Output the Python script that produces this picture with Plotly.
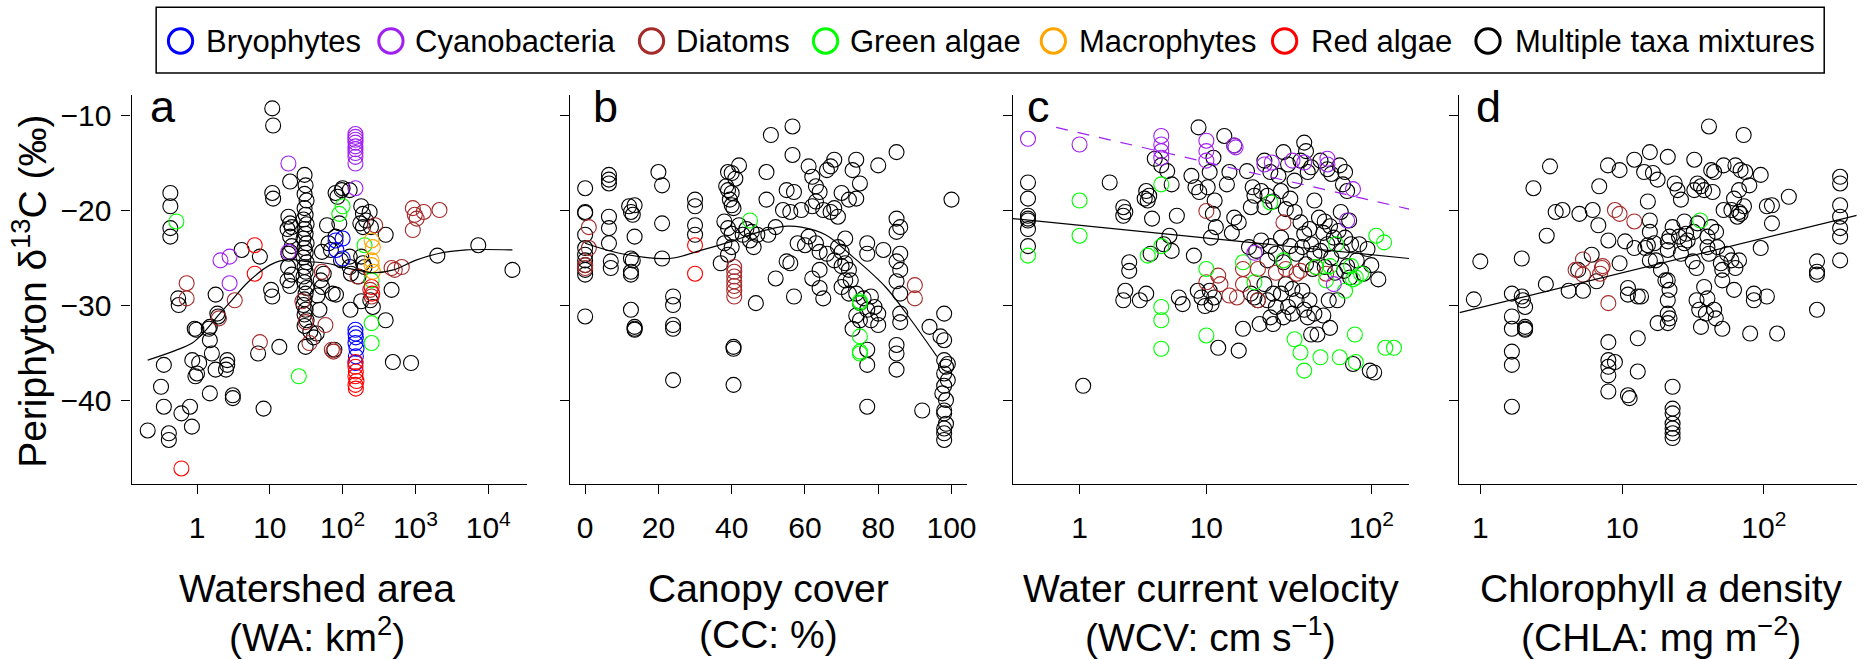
import math
import plotly.graph_objects as go

W, H = 1874, 660
FONT = "Liberation Sans, Arial, Helvetica, sans-serif"

TAXA = ["Bryophytes", "Cyanobacteria", "Diatoms", "Green algae",
        "Macrophytes", "Red algae", "Multiple taxa mixtures"]
COLORS = {"Bryophytes": "#0000FF", "Cyanobacteria": "#A020F0", "Diatoms": "#A52A2A",
          "Green algae": "#00FF00", "Macrophytes": "#FFA500", "Red algae": "#FF0000",
          "Multiple taxa mixtures": "#000000"}

Y_TICKS = [-10, -20, -30, -40]
Y_TICK_TEXT = ["\u221210", "\u221220", "\u221230", "\u221240"]

# ---------------- panel a: watershed area (km2) vs d13C ----------------
A_MIX = [(0.21,-43.2),(0.32,-38.6),(0.35,-36.3),(0.35,-40.7),(0.41,-43.5),(0.41,-44.2),
 (0.43,-18.2),(0.43,-19.6),(0.43,-21.9),(0.43,-22.8),(0.55,-29.3),(0.56,-30.0),(0.61,-41.4),
 (0.80,-40.7),(0.85,-42.8),(0.93,-32.5),(0.98,-32.6),(0.86,-35.8),(1.0,-37.2),(0.95,-37.5),
 (1.07,-36.1),(1.5,-32.3),(1.45,-32.5),(1.5,-33.7),(1.6,-35.1),(1.5,-39.3),(1.8,-28.9),
 (1.9,-30.9),(1.95,-31.2),(1.8,-36.8),(2.5,-36.8),(2.6,-35.8),(2.6,-36.3),(3.1,-39.5),
 (3.1,-39.8),(4.1,-24.2),(7.3,-24.9),(6.9,-35.1),(8.2,-40.9),(10.8,-9.3),(11.1,-11.1),
 (10.8,-18.2),(11.1,-18.8),(10.4,-28.4),(10.8,-29.1),(13.5,-34.4),(19,-17.0),(17.5,-27.4),
 (17.8,-26.0),(18,-24.6),(18,-20.7),(19,-21.4),(20,-21.8),(19,-22.8),(20,-23.8),(19,-24.4),
 (17.5,-22.0),(20,-26.8),(19,-28.0),
 (30,-16.3),(31,-17.4),(30,-18.3),(32,-19.0),(30,-19.8),(31,-20.5),(29,-21.0),(32,-21.5),
 (30,-22.0),(31,-22.5),(29,-23.0),(32,-23.5),(30,-24.0),(31,-24.5),(29,-25.0),(32,-25.5),
 (30,-26.0),(31,-26.5),(29,-27.0),(30,-27.6),(32,-28.2),(31,-28.8),(30,-29.4),(29,-30.0),
 (31,-30.5),(30,-31.0),(32,-31.6),(30,-32.2),(31,-34.4),
 (40,-33.4),(44,-33.0),(36,-32.8),(52,-24.4),(50,-27.4),(52,-28.1),(55,-26.7),(45,-29.0),
 (48,-30.5),(61,-21.6),(64,-23.5),(69,-24.2),(73,-28.8),(81,-28.9),(77,-34.7),(80,-18.2),
 (85,-18.6),(97,-17.9),(100,-17.7),(125,-17.9),(90,-21.4),(80,-22.8),(95,-25.3),(125,-24.9),
 (125,-26.0),(130,-26.7),(128,-30.5),(180,-19.6),(190,-20.4),(210,-21.1),(235,-20.2),
 (175,-21.4),(190,-21.8),(245,-21.8),(180,-24.9),(190,-25.6),(200,-26.0),(165,-27.0),
 (180,-29.6),(240,-29.5),(260,-30.2),(390,-22.6),(470,-28.4),(390,-31.6),(490,-36.0),
 (870,-36.1),(2000,-24.8),(7300,-23.7),(21500,-26.3)]
A_DIA = [(0.72,-27.7),(0.72,-29.3),(2.0,-31.4),(3.3,-29.5),(7.3,-33.9),(28,-29.6),(31,-31.8),
 (35,-34.0),(52,-26.5),(58,-32.1),(71,-34.7),(75,-34.9),(160,-27.0),(240,-28.4),(250,-29.1),
 (280,-21.6),(470,-26.1),(520,-26.3),(650,-26.0),(920,-19.8),(980,-20.5),(1040,-20.9),
 (1300,-20.2),(920,-22.1),(2140,-20.0)]
A_CYA = [(2.1,-25.3),(2.8,-24.9),(2.8,-27.7),(18,-15.1),(18,-24.4),(150,-12.0),(150,-12.3),
 (150,-12.6),(150,-12.9),(150,-13.3),(150,-13.6),(150,-14.0),(150,-14.4),(150,-15.1),(150,-17.7)]
A_GRE = [(0.52,-21.2),(25,-37.5),(90,-20.4),(100,-19.6),(200,-23.7),(250,-31.9),(250,-34.0),(250,-27.4)]
A_BRY = [(80,-23.2),(100,-23.0),(82,-24.2),(100,-25.1),(150,-32.6),(150,-33.0),(152,-33.4),
 (150,-34.0),(155,-34.6),(152,-35.4),(150,-36.1)]
A_RED = [(0.61,-47.2),(6.2,-23.7),(6.2,-26.7),(150,-36.0),(150,-36.5),(152,-37.0),(150,-37.5),
 (155,-38.0),(150,-38.4),(152,-38.8),(250,-28.1),(255,-28.8)]
A_MAC = [(250,-23.2),(260,-23.9),(250,-25.3),(250,-25.8),(260,-26.5)]
A_LOESS = [(0.21,-35.8),(0.5,-34.8),(0.86,-34.0),(1.2,-33.0),(2.0,-31.0),(3.0,-29.5),(5,-27.6),
 (10,-25.8),(18,-25.2),(30,-25.4),(60,-25.6),(100,-26.0),(180,-26.4),(270,-26.6),(500,-26.3),
 (1000,-25.3),(2000,-24.6),(5000,-24.2),(21500,-24.2)]

# ---------------- panel b: canopy cover (%) ----------------
B_MIX = [(0,-17.7),(0,-20.2),(0,-20.3),(0,-22.6),(0,-24.0),(0,-24.7),(0,-25.3),(0,-25.8),
 (0,-26.3),(0,-26.8),(0,-31.2),(6.5,-16.3),(6.5,-16.8),(6.5,-17.2),(6.5,-20.7),(6.5,-21.9),
 (6.5,-23.5),(7,-25.4),(7,-26.1),(12,-19.6),(12.5,-20.2),(13,-20.5),(13.5,-19.5),(13.5,-22.8),
 (12.5,-25.1),(13,-25.3),(12.5,-26.5),(12.5,-26.8),(12.5,-30.5),(13.5,-32.3),(13.5,-32.5),
 (13.5,-32.6),(20,-16.0),(21,-17.4),(21,-21.4),(21,-25.1),(24,-29.1),(24,-30.0),(24,-32.1),
 (24,-32.5),(24,-37.9),(30,-18.9),(30,-19.6),(30,-21.6),(30,-22.6),(39,-16.0),(40,-16.1),
 (41,-16.7),(38.5,-17.5),(39,-17.9),(40,-18.2),(39.5,-18.9),(40,-19.5),(40.5,-19.8),(38,-21.2),
 (39,-21.9),(40,-22.5),(38,-23.5),(40,-23.9),(39,-24.7),(37,-25.6),(40.5,-34.4),(40.5,-34.6),
 (40.5,-38.4),(42,-15.3),(42,-21.6),(43,-22.6),(44,-22.0),(45,-23.2),(46,-23.9),(47,-22.6),
 (45.5,-22.3),(46.6,-29.8),(49.5,-16.0),(49.5,-18.9),(50,-22.6),(50.7,-12.1),(52,-21.8),
 (52,-27.2),(54,-20.0),(56,-20.2),(55,-17.9),(57,-18.1),(55,-25.4),(56,-25.6),(57,-29.1),
 (56.6,-11.2),(56.6,-14.2),(58,-23.5),(60,-23.7),(59,-20.0),(61,-15.4),(62,-16.5),(63,-17.5),
 (64,-18.1),(63,-19.1),(62,-19.6),(65,-20.0),(61,-22.8),(63,-23.5),(64,-24.4),(66,-24.6),
 (64,-26.3),(62,-27.2),(64,-28.2),(65,-29.3),(68,-14.7),(67,-15.4),(66,-15.8),(70,-18.2),
 (72,-18.9),(68,-19.8),(67,-20.2),(69,-20.7),(71,-23.0),(69,-23.9),(70,-24.4),(68,-25.3),
 (71,-25.6),(70,-25.9),(72,-26.3),(71,-27.4),(70,-28.1),(72,-28.8),(74,-14.7),(73,-15.8),
 (75,-17.2),(74,-18.8),(72.5,-27.4),(74,-28.8),(76,-29.3),(75,-29.8),(77,-30.5),(74,-31.1),
 (75,-31.6),(73,-32.5),(77,-23.5),(77,-24.6),(78,-29.1),(79,-30.2),(80,-30.9),(78,-31.6),
 (80,-32.1),(77,-34.7),(77,-36.3),(77,-40.7),(80,-15.3),(81.4,-24.2),(85,-13.9),(85,-20.9),
 (86,-21.8),(85,-22.3),(86,-24.6),(85,-25.4),(86,-26.3),(85,-27.5),(86,-28.8),(86,-30.9),
 (86,-31.8),(85,-34.2),(85,-35.1),(85,-36.8),(92,-41.1),(94,-32.3),(98,-30.9),(97,-33.3),
 (98,-33.7),(98,-35.8),(98.5,-36.5),(98,-37.2),(99,-37.9),(97.5,-39.3),(98.5,-40.0),
 (98,-41.1),(98,-41.4),(98.5,-42.5),(98,-43.0),(98,-43.5),(98,-44.2),(99,-36.2),(98,-38.5),
 (100,-18.9)]
B_DIA = [(1,-21.8),(1,-24.0),(0,-25.8),(0,-26.1),(40.7,-26.0),(40.7,-26.5),(40.7,-27.0),
 (40.7,-27.5),(40.7,-28.0),(40.7,-28.5),(40.7,-29.1),(90,-27.9),(90,-29.3)]
B_RED = [(30,-23.7),(30,-26.7)]
B_GRE = [(45,-21.1),(75,-29.6),(75,-29.8),(75,-33.3),(75,-34.9),(75,-35.1)]
B_LOESS = [(0,-23.5),(10,-24.6),(23,-25.1),(32,-24.2),(40,-23.3),(47.5,-22.3),(55,-21.7),
 (59,-21.8),(65.6,-22.6),(73,-24.9),(82,-28.1),(89,-31.6),(96,-35.4)]

# ---------------- panel c: water current velocity (cm/s), axis log10(WCV+1) ----------------
C_MIX = [(0,-17.1),(0,-18.8),(0,-20.6),(0,-20.9),(0,-21.1),(0,-22.0),(0,-23.8),(2.0,-17.1),
 (1.1,-38.5),(2.6,-19.7),(2.7,-20.2),(2.6,-20.6),(2.9,-25.5),(2.9,-26.4),(2.7,-28.5),(2.6,-29.5),
 (4.5,-14.6),(3.9,-18.0),(4.1,-18.5),(3.8,-18.8),(4.0,-19.0),(4.3,-20.9),(4.2,-24.6),(3.9,-28.8),
 (3.5,-29.5),(5.0,-15.3),(5.5,-15.9),(5.9,-17.3),(5.7,-22.7),(5.2,-23.6),(5.9,-24.3),(6.4,-20.6),
 (6.6,-29.2),(7.0,-29.9),(8.9,-11.3),(8.0,-16.4),(8.5,-17.6),(9.0,-18.1),(8.3,-24.8),(8.8,-28.5),
 (9.3,-29.2),(9.8,-30.1),(11.1,-14.5),(10.5,-16.0),(10.2,-17.6),(11.3,-19.0),(11.0,-20.4),
 (11.5,-21.8),(10.7,-22.9),(10.5,-28.5),(11.2,-29.2),(10.8,-29.9),(11.9,-34.5),(13.0,-12.2),
 (15.0,-13.2),(14.0,-16.0),(13.5,-17.3),(15.0,-20.8),(16.0,-21.3),(14.5,-22.4),(17.0,-32.5),
 (16.0,-34.8),(18.0,-15.9),(19.5,-17.6),(20.0,-18.5),(19.0,-19.7),(18.5,-23.9),(20.5,-24.3),
 (19.0,-28.8),(20.0,-29.2),(21.0,-29.5),(21.5,-32.0),(23,-14.8),(25,-16.0),(22,-18.0),(24,-18.5),
 (26,-19.1),(23,-19.7),(22,-23.2),(25,-23.8),(27,-24.6),(24,-25.3),(23,-27.8),(26,-28.8),
 (24,-29.5),(27,-30.2),(25,-31.3),(26,-32.0),(30,-13.9),(32,-15.2),(28,-16.4),(35,-16.9),
 (29,-18.0),(33,-18.8),(31,-19.9),(35,-20.2),(29,-22.9),(33,-23.8),(36,-24.6),(30,-25.5),
 (31,-27.8),(34,-28.3),(29,-28.8),(36,-29.5),(32,-30.2),(34,-30.9),(30,-31.3),(40,-12.9),
 (41,-13.8),(38,-14.8),(44,-15.5),(42,-16.0),(46,-19.0),(38,-21.3),(43,-22.0),(40,-22.5),
 (44,-23.6),(39,-23.9),(46,-24.6),(41,-25.7),(45,-26.2),(39,-28.5),(43,-29.5),(40,-30.5),
 (46,-30.9),(42,-31.3),(44,-33.1),(50,-14.8),(55,-15.7),(58,-16.2),(49,-20.8),(53,-21.2),
 (57,-21.7),(52,-22.4),(60,-22.9),(55,-23.6),(50,-24.3),(58,-25.0),(53,-26.0),(61,-26.6),
 (56,-29.5),(52,-31.1),(57,-32.4),(48,-33.1),(65,-15.3),(70,-16.0),(68,-17.3),(72,-18.0),
 (66,-20.2),(74,-21.1),(64,-22.2),(70,-22.9),(76,-23.6),(67,-24.3),(72,-25.9),(69,-26.4),
 (75,-27.1),(63,-29.5),(78,-36.2),(85,-23.6),(95,-24.1),(82,-25.3),(100,-25.8),(90,-26.7),
 (110,-27.3),(98,-36.9),(104,-37.1)]
C_CYA = [(0,-12.5),(1,-13.1),(5,-12.2),(5,-13.1),(5,-13.8),(5,-14.5),(10,-12.7),(10,-13.8),
 (10,-14.8),(15,-13.2),(15.3,-13.4),(23,-15.2),(25.5,-15.0),(34,-14.8),(40,-15.0),(55,-14.6),
 (55,-15.2),(78,-17.8),(72,-21.1),(20,-24.5),(60,-27.8)]
C_GRE = [(0,-24.8),(1,-19.0),(1,-22.7),(5,-17.3),(4,-24.8),(5,-23.8),(5,-30.2),(5,-31.6),
 (5,-34.6),(10,-26.2),(10,-33.2),(17,-25.5),(20,-27.6),(25,-19.2),(30,-25.3),(35,-33.6),
 (38,-35.0),(40,-36.9),(50,-35.5),(57,-25.9),(62,-23.6),(65,-35.5),(54,-27.4),(70,-28.5),
 (76,-25.9),(81,-27.1),(80,-33.1),(81,-36.0),(87,-26.7),(107,-22.7),(119,-23.4),(121,-34.5),
 (136,-34.5),(47,-26.0),(78,-27.3)]
C_DIA = [(10,-20.1),(10,-27.6),(11.9,-26.9),(12.3,-27.8),(14,-29.0),(15.6,-29.2),(17,-26.2),
 (17,-27.8),(21,-26.2),(21,-29.5),(27,-26.6),(30,-21.3),(31,-26.2),(36,-26.7),(38,-26.4),
 (47,-26.0),(54,-26.7)]
# regression lines on log10(WCV + 1): intercept, slope
C_FIT_ALL = (-21.06, -1.816)
C_FIT_CYA = (-10.62, -4.17)
C_FIT_CYA_START = 0.46

# ---------------- panel d: chlorophyll a density (mg/m2) ----------------
D_MIX = [(0.9,-29.4),(1.0,-25.4),(1.67,-28.8),(1.67,-31.2),(1.67,-32.5),(1.67,-34.9),(1.67,-36.3),
 (1.67,-40.7),(1.96,-25.1),(1.96,-29.1),(2.0,-29.5),(2.07,-30.2),(2.07,-32.3),(2.07,-32.5),
 (2.07,-32.6),(2.37,-17.7),(2.9,-27.8),(2.94,-22.7),(3.1,-15.4),(3.4,-20.2),(3.8,-20.0),
 (4.2,-28.5),(4.9,-26.3),(5.0,-20.4),(5.3,-28.5),(6.1,-24.7),(6.2,-20.0),(6.6,-27.5),(6.8,-21.6),
 (6.9,-17.5),(7.95,-15.3),(8.0,-23.2),(8.0,-33.9),(8.0,-35.8),(8.0,-36.5),(8.0,-37.4),(8.0,-39.1),
 (8.9,-36.0),(9.6,-25.6),(9.6,-15.8),(10.5,-23.3),(11.0,-28.2),(11.0,-28.9),(11.0,-39.5),
 (11.3,-39.8),(12.2,-14.7),(12.2,-24.0),(12.9,-29.1),(13.6,-29.1),(12.9,-33.5),(12.9,-37.0),
 (14.3,-16.0),(14.6,-24.0),(15.2,-23.7),(15.2,-19.1),(15.7,-21.1),(15.7,-22.3),(15.7,-25.3),
 (15.7,-13.9),(16.5,-16.1),(17.8,-16.8),(16.9,-23.5),(17.3,-25.3),(17.8,-31.9),(18.8,-26.3),
 (20.2,-27.4),(21,-14.4),(21,-23.3),(21.6,-22.8),(21,-24.2),(21,-27.4),(21.6,-28.4),(21,-29.5),
 (21,-30.9),(21.6,-31.4),(21,-31.9),(22.7,-21.8),(23.5,-17.2),(22.7,-38.6),(22.7,-40.9),
 (22.7,-41.4),(22.7,-42.5),(22.7,-43.0),(22.7,-43.5),(22.7,-44.0),(24.6,-17.9),(26,-18.9),
 (25.2,-22.8),(26,-24.6),(27.5,-23.5),(28.3,-22.5),(29,-23.2),(27.5,-21.2),(32,-22.3),(34,-21.4),
 (32.3,-14.7),(32.3,-17.9),(31.5,-25.4),(33.5,-26.1),(33.5,-29.5),(35,-30.5),(36,-32.3),
 (34,-17.2),(36,-17.5),(37.9,-17.9),(37.9,-28.1),(39,-30.9),(40,-29.3),(40,-22.8),(40,-23.9),
 (41,-24.6),(42.5,-21.8),(41,-11.2),(42.5,-15.8),(44.6,-16.0),(43.5,-18.1),(44.6,-30.5),
 (45.8,-31.4),(50.9,-32.5),(46,-22.3),(47,-23.9),(49.7,-25.6),(50.9,-26.3),(50.9,-27.4),
 (52,-15.3),(63,-15.3),(52,-20.0),(59,-20.0),(61.6,-18.8),(55,-24.6),(59,-25.3),(63,-26.1),
 (61.6,-28.4),(66.8,-25.3),(65,-20.7),(66.8,-20.2),(68.5,-20.4),(72.4,-19.6),(66.8,-17.9),
 (72,-12.1),(68.5,-15.8),(74,-16.0),(79,-17.4),(95,-16.3),(80,-33.0),(85,-28.8),(85,-29.5),
 (105,-29.1),(95,-24.0),(105,-19.6),(114,-19.5),(114,-21.4),(124,-33.0),(150,-18.6),
 (237,-25.4),(237,-26.5),(237,-26.8),(237,-30.5),(345,-16.5),(345,-17.2),(345,-19.5),
 (345,-20.7),(345,-21.9),(345,-22.8),(345,-25.3)]
D_DIA = [(4.7,-26.3),(5.3,-25.2),(5.3,-26.8),(7.2,-26.1),(7.0,-26.7),(7.3,-25.9),(8.9,-20.0),
 (9.6,-20.4),(12.2,-21.2),(8.0,-29.8)]
D_GRE = [(35.6,-21.1)]
D_FIT = (-30.26, 3.656)   # intercept, slope on log10(CHLA)

# ---------------- axis ranges / ticks ----------------
Y_RANGE = [-48.87, -7.89]
A_RANGE_LOG = [-0.899, 4.535]
A_TICKS = [1, 10, 100, 1000, 10000]
A_TICK_TEXT = ["1", "10", "10<sup>2</sup>", "10<sup>3</sup>", "10<sup>4</sup>"]
B_RANGE = [-4.07, 104.1]
B_TICKS = [0, 20, 40, 60, 80, 100]
C_RANGE_T = [-0.0877, 2.2253]
C_TICKS = [1, 10, 100]
C_TICK_TEXT = ["1", "10", "10<sup>2</sup>"]
D_RANGE_LOG = [-0.147, 2.655]
D_TICKS = [1, 10, 100]
D_TICK_TEXT = ["1", "10", "10<sup>2</sup>"]

# ---------------- layout geometry (pixels) ----------------
X_DOMAINS_PX = [(132.3, 530.0), (573.3, 971.7), (1018.4, 1416.7), (1467.3, 1866.7)]
Y_DOMAIN_PX = (95.0, 484.3)


def px_x(p):
    return p / W


def px_y(p):
    return 1 - p / H


def tc(v):
    return math.log10(v + 1)


fig = go.Figure()


def add_points(pts, taxon, ax, tf=None):
    xs = [p[0] for p in pts]
    if tf:
        xs = [tf(v) for v in xs]
    fig.add_trace(go.Scatter(
        x=xs, y=[p[1] for p in pts], mode="markers", name=taxon, showlegend=False,
        xaxis="x" + ax, yaxis="y" + ax,
        marker=dict(symbol="circle-open", size=15, color=COLORS[taxon],
                    line=dict(width=1.1, color=COLORS[taxon]))))


def add_line(xs, ys, ax, color="#000000", dash="solid", shape="linear"):
    fig.add_trace(go.Scatter(
        x=xs, y=ys, mode="lines", showlegend=False, hoverinfo="skip",
        xaxis="x" + ax, yaxis="y" + ax,
        line=dict(color=color, width=1.2, dash=dash, shape=shape, smoothing=1.0)))


# panel a
add_points(A_MIX, "Multiple taxa mixtures", "")
add_points(A_DIA, "Diatoms", "")
add_points(A_CYA, "Cyanobacteria", "")
add_points(A_GRE, "Green algae", "")
add_points(A_BRY, "Bryophytes", "")
add_points(A_RED, "Red algae", "")
add_points(A_MAC, "Macrophytes", "")
add_line([p[0] for p in A_LOESS], [p[1] for p in A_LOESS], "", shape="spline")

# panel b
add_points(B_MIX, "Multiple taxa mixtures", "2")
add_points(B_DIA, "Diatoms", "2")
add_points(B_RED, "Red algae", "2")
add_points(B_GRE, "Green algae", "2")
add_line([p[0] for p in B_LOESS], [p[1] for p in B_LOESS], "2", shape="spline")

# panel c
add_points(C_MIX, "Multiple taxa mixtures", "3", tc)
add_points(C_DIA, "Diatoms", "3", tc)
add_points(C_GRE, "Green algae", "3", tc)
add_points(C_CYA, "Cyanobacteria", "3", tc)
ux = [C_RANGE_T[0], C_RANGE_T[1]]
add_line(ux, [C_FIT_ALL[0] + C_FIT_ALL[1] * u for u in ux], "3")
ux2 = [tc(C_FIT_CYA_START), C_RANGE_T[1]]
add_line(ux2, [C_FIT_CYA[0] + C_FIT_CYA[1] * u for u in ux2], "3",
         color=COLORS["Cyanobacteria"], dash="12px,10px")

# panel d
add_points(D_MIX, "Multiple taxa mixtures", "4")
add_points(D_DIA, "Diatoms", "4")
add_points(D_GRE, "Green algae", "4")
lx = [D_RANGE_LOG[0], D_RANGE_LOG[1]]
add_line([10 ** v for v in lx], [D_FIT[0] + D_FIT[1] * v for v in lx], "4")

tickfont = dict(family=FONT, size=30, color="#000000")
ydom = [px_y(Y_DOMAIN_PX[1]), px_y(Y_DOMAIN_PX[0])]

common_x = dict(showline=True, linecolor="#000000", linewidth=1.3, ticks="outside",
                ticklen=9, tickwidth=1.2, tickcolor="#000000", showgrid=False,
                zeroline=False, tickfont=tickfont, ticklabelstandoff=8, fixedrange=True)
xaxes_cfg = [
    dict(type="log", range=A_RANGE_LOG, tickvals=A_TICKS, ticktext=A_TICK_TEXT),
    dict(type="linear", range=B_RANGE, tickvals=B_TICKS, ticktext=[str(v) for v in B_TICKS]),
    dict(type="linear", range=C_RANGE_T, tickvals=[tc(v) for v in C_TICKS], ticktext=C_TICK_TEXT),
    dict(type="log", range=D_RANGE_LOG, tickvals=D_TICKS, ticktext=D_TICK_TEXT),
]
layout = dict(width=W, height=H, margin=dict(l=0, r=0, t=0, b=0),
              paper_bgcolor="#ffffff", plot_bgcolor="#ffffff", showlegend=False,
              font=dict(family=FONT, color="#000000"))
for i, cfg in enumerate(xaxes_cfg):
    key = "xaxis" if i == 0 else "xaxis%d" % (i + 1)
    ykey = "yaxis" if i == 0 else "yaxis%d" % (i + 1)
    sfx = "" if i == 0 else str(i + 1)
    d0, d1 = X_DOMAINS_PX[i]
    layout[key] = dict(common_x, domain=[px_x(d0), px_x(d1)], anchor="y" + sfx, **cfg)
    layout[ykey] = dict(showline=True, linecolor="#000000", linewidth=1.3, ticks="outside",
                        ticklen=9, tickwidth=1.2, tickcolor="#000000", showgrid=False,
                        zeroline=False, range=Y_RANGE, domain=ydom, anchor="x" + sfx,
                        tickvals=Y_TICKS, ticktext=Y_TICK_TEXT, tickfont=tickfont,
                        showticklabels=(i == 0), ticklabelstandoff=4, fixedrange=True)

annotations = []
shapes = []


def ann(text, x, y, size, xanchor="center", yanchor="middle", angle=0):
    annotations.append(dict(text=text, x=px_x(x), y=px_y(y), xref="paper", yref="paper",
                            xanchor=xanchor, yanchor=yanchor, showarrow=False, textangle=angle,
                            font=dict(family=FONT, size=size, color="#000000")))


# panel letters
for letter, lx0 in zip("abcd", [149, 594, 1030, 1482]):
    ann(letter, lx0, 106, 45, xanchor="left")

# axis titles
X_TITLES = [("Watershed area", "(WA: km<sup>2</sup>)", 319),
            ("Canopy cover", "(CC: %)", 773),
            ("Water current velocity", "(WCV: cm s<sup>\u22121</sup>)", 1217),
            ("Chlorophyll <i>a</i> density", "(CHLA: mg m<sup>\u22122</sup>)", 1670)]
for l1, l2, cx in X_TITLES:
    ann(l1, cx, 588, 39)
    ann(l2, cx, 634, 39)
ann("Periphyton \u03b4<sup>13</sup>C (\u2030)", 29.5, 291.5, 39, angle=-90)

# legend (manual)
shapes.append(dict(type="rect", xref="paper", yref="paper", x0=px_x(157), x1=px_x(1834),
                   y0=px_y(73), y1=px_y(7.3), line=dict(color="#000000", width=1.5),
                   fillcolor="rgba(0,0,0,0)"))
LEG_CIRCLE_X = [181.5, 393, 655, 830, 1059, 1291.5, 1496]
LEG_TEXT_X = [205.6, 416.7, 679, 854, 1083.5, 1317, 1522]
for taxon, cxl, tx in zip(TAXA, LEG_CIRCLE_X, LEG_TEXT_X):
    r = 12.2
    shapes.append(dict(type="circle", xref="paper", yref="paper",
                       x0=px_x(cxl - r), x1=px_x(cxl + r), y0=px_y(41 + r), y1=px_y(41 - r),
                       line=dict(color=COLORS[taxon], width=3), fillcolor="rgba(0,0,0,0)"))
    ann(taxon, tx - 1, 41, 31, xanchor="left")

layout["annotations"] = annotations
layout["shapes"] = shapes
fig.update_layout(**layout)
fig.write_html("out.html")
